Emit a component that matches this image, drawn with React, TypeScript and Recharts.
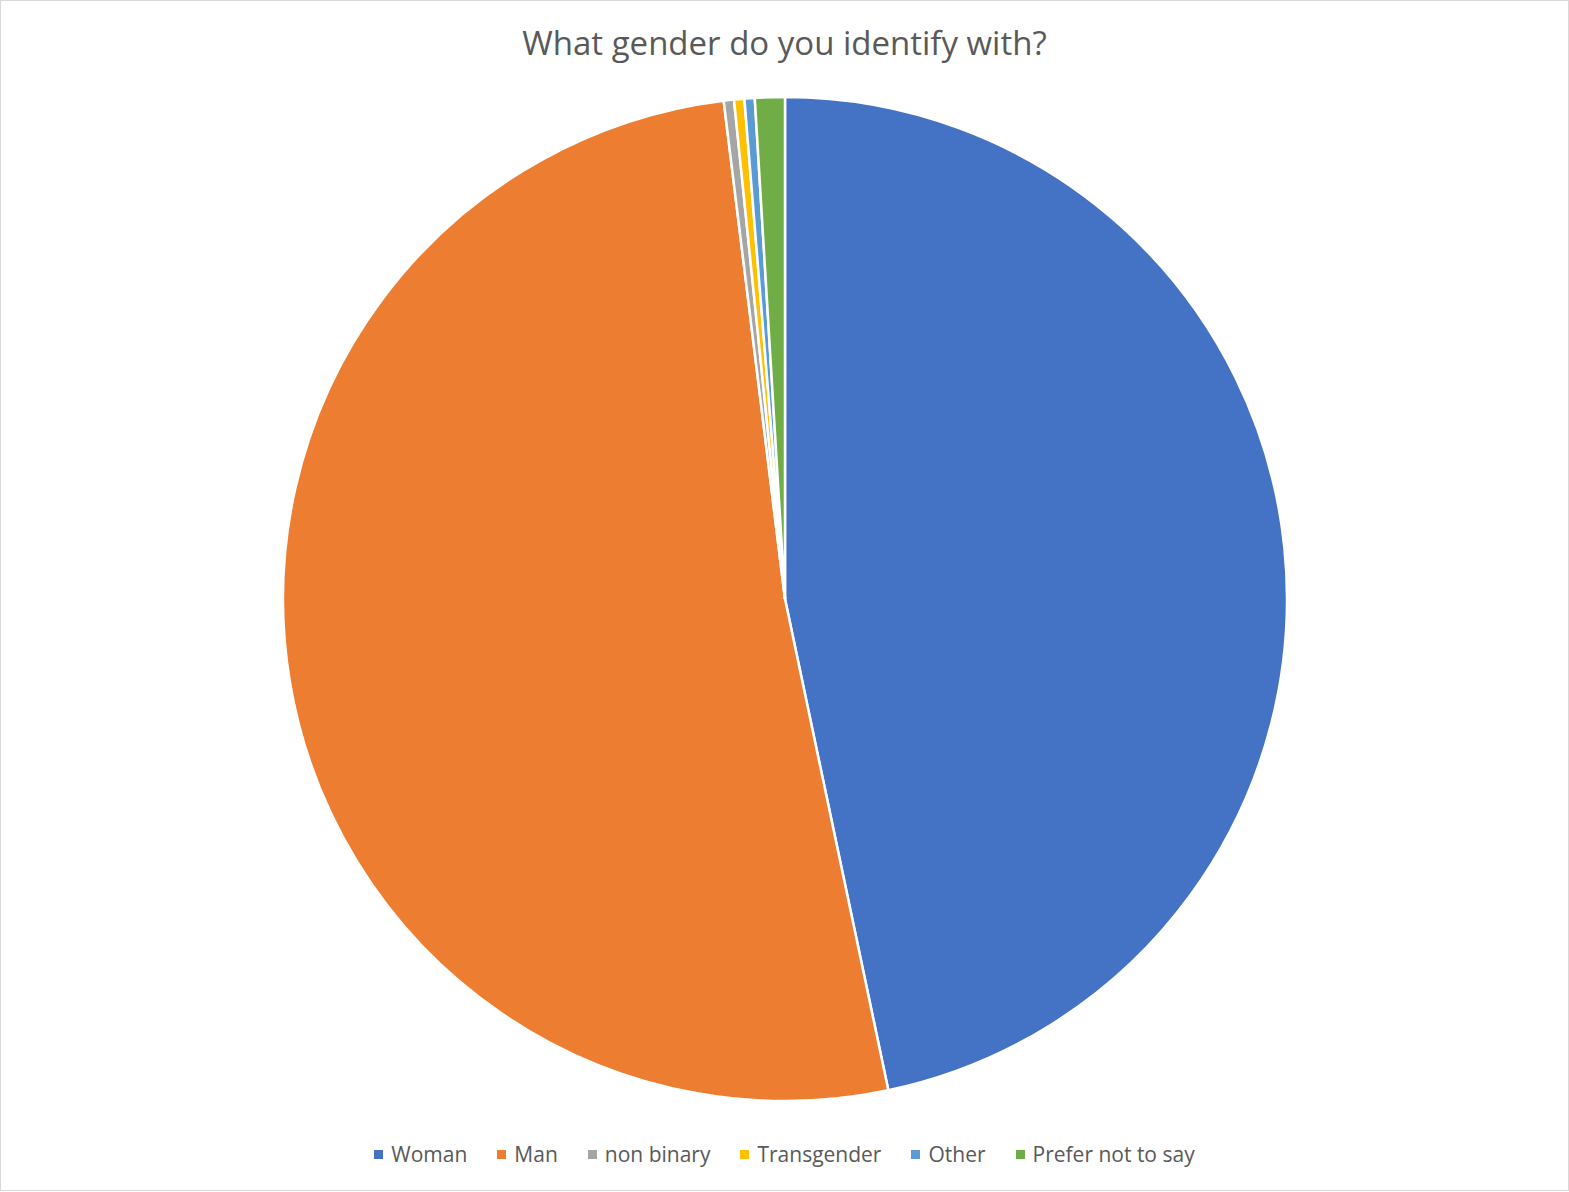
import { PieChart, Pie, Cell, Legend } from "recharts";

const CATEGORIES = ["Woman", "Man", "non binary", "Transgender", "Other", "Prefer not to say"];
const VALUES = [46.7, 51.35, 0.33, 0.33, 0.33, 0.96];
const COLORS = ["#4472C4", "#ED7D31", "#A5A5A5", "#FFC000", "#5B9BD5", "#70AD47"];

const TITLE = "What gender do you identify with?";
const FONT = "'Open Sans', 'Noto Sans', sans-serif";

const chartData = CATEGORIES.map((name, i) => ({
  name,
  value: VALUES[i],
  color: COLORS[i],
}));

function GenderLegend() {
  return (
    <div
      style={{
        display: "flex",
        justifyContent: "center",
        gap: 30,
        fontFamily: FONT,
        fontSize: 21,
        color: "#595959",
      }}
    >
      {chartData.map((d) => (
        <span key={d.name} style={{ display: "inline-flex", alignItems: "center" }}>
          <span
            style={{
              display: "inline-block",
              width: 9,
              height: 9,
              background: d.color,
              marginRight: 8,
            }}
          />
          {d.name}
        </span>
      ))}
    </div>
  );
}

export default function App() {
  return (
    <div
      style={{
        position: "absolute",
        top: 0,
        left: 0,
        width: 1567,
        height: 1189,
        border: "1px solid #D9D9D9",
        background: "#fff",
      }}
    >
      <div
        style={{
          position: "absolute",
          top: 19,
          left: 0,
          width: "100%",
          textAlign: "center",
          fontFamily: FONT,
          fontSize: 33,
          color: "#595959",
        }}
      >
        {TITLE}
      </div>
      <PieChart width={1567} height={1189}>
        <Pie
          data={chartData}
          dataKey="value"
          nameKey="name"
          cx={779}
          cy={593}
          outerRadius={502}
          startAngle={90}
          endAngle={-270}
          stroke="#fff"
          strokeWidth={2.5}
          isAnimationActive={false}
        >
          {chartData.map((entry, index) => (
            <Cell key={`cell-${index}`} fill={entry.color} />
          ))}
        </Pie>
        <Legend
          verticalAlign="bottom"
          wrapperStyle={{ bottom: 22 }}
          content={() => <GenderLegend />}
        />
      </PieChart>
    </div>
  );
}
